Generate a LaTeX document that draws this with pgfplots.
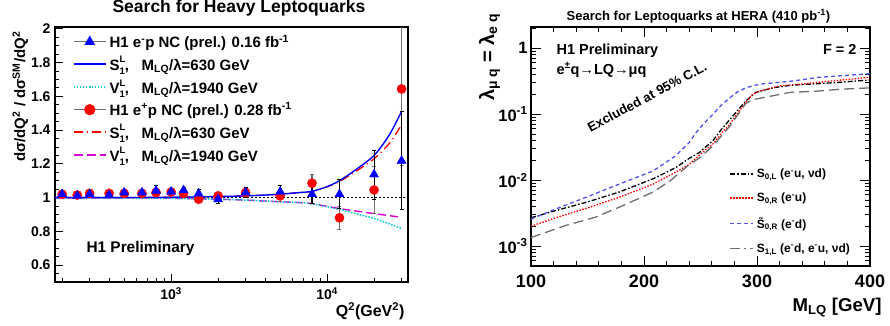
\documentclass[border=0pt]{standalone}
\usepackage{fontspec}
\setmainfont{Liberation Sans}
\usepackage{pgfplots}
\pgfplotsset{compat=1.18}
\newcommand\supsub[2]{\makebox[0pt][l]{\raisebox{0.95ex}{\fontsize{9.5}{9.5}\selectfont #1}}\raisebox{-0.55ex}{\fontsize{9.5}{9.5}\selectfont #2}}
\newcommand\fs[1]{\bfseries\fontsize{#1}{#1}\selectfont}
\definecolor{lqcyan}{RGB}{0,200,210}
\definecolor{lqmag}{RGB}{215,0,215}
\definecolor{lqblue}{RGB}{80,80,240}
\definecolor{lqgray}{RGB}{110,110,110}

\pgfplotstableread{
q v e
200 1.02 0.012
250 1.015 0.012
300 1.025 0.012
400 1.025 0.012
500 1.025 0.012
650 1.025 0.013
800 1.03 0.014
1000 1.033 0.015
1200 1.024 0.016
1500 0.99 0.017
2000 1.01 0.02
3000 1.03 0.025
5000 1.01 0.03
8000 1.085 0.05
12000 0.88 0.07
20000 1.045 0.14
30000 1.643 0.45
}\epdata
\pgfplotstableread{
q v e
200 1.02 0.015
250 1.01 0.015
300 1.02 0.015
400 1.015 0.015
500 1.03 0.015
650 1.03 0.016
800 1.04 0.035
1000 1.035 0.02
1200 1.043 0.02
1500 1.024 0.025
2000 0.99 0.025
3000 1.03 0.03
5000 1.035 0.035
8000 1.02 0.055
12000 1.02 0.085
20000 1.137 0.145
30000 1.218 0.29
}\emdata

\begin{document}
\begin{tikzpicture}
\useasboundingbox (0pt,0pt) rectangle (890pt,325pt);
% ---------------- left panel ----------------
\begin{axis}[at={(55pt,43pt)}, anchor=south west, scale only axis,
  width=353pt, height=255pt,
  xmode=log, xmin=180, xmax=33000, ymin=0.5, ymax=2.01,
  axis line style={line width=1.2pt},
  tick align=inside, xtick pos=bottom, ytick pos=left,
  major tick length=8pt, minor tick length=4.5pt,
  every tick/.style={black, line width=0.8pt},
  xtick={1000,10000}, xticklabels={10\textsuperscript{3},10\textsuperscript{4}},
  minor xtick={200,300,400,500,600,700,800,900,2000,3000,4000,5000,6000,7000,8000,9000,20000,30000},
  ytick={0.6,0.8,1,1.2,1.4,1.6,1.8,2},
  yticklabels={0.6,0.8,1,1.2,1.4,1.6,1.8,2},
  minor ytick={0.5,0.55,0.65,0.7,0.75,0.85,0.9,0.95,1.05,1.1,1.15,1.25,1.3,1.35,1.45,1.5,1.55,1.65,1.7,1.75,1.85,1.9,1.95},
  ticklabel style={font=\fs{14}},
  yticklabel style={xshift=-1pt},
  xticklabel style={yshift=-2pt},
  clip=true,
  legend cell align=left,
  legend style={at={(axis description cs:0.05,0.978)}, anchor=north west, draw=none, fill=none,
     font=\fs{15}, row sep=3.6pt, inner sep=0pt,
     nodes={inner xsep=3pt, inner ysep=2pt}},
  legend image code/.code={\draw[mark repeat=2,mark phase=2,#1] plot coordinates {(0pt,0pt) (16pt,0pt) (32pt,0pt)};},
]
\addlegendimage{draw=lqgray, line width=1.2pt, mark=triangle*, mark size=5pt, mark options={fill=blue, draw=blue, solid}}
\addlegendentry{H1 e\textsuperscript{-}p NC (prel.) 0.16 fb\textsuperscript{-1}}
\addlegendimage{draw=blue, line width=1.5pt}
\addlegendentry{S\supsub{L}{1},\ \ \ M\textsubscript{LQ}/λ=630 GeV}
\addlegendimage{draw=lqcyan, line width=1.7pt, dash pattern=on 1.5pt off 1.5pt}
\addlegendentry{V\supsub{L}{1},\ \ \ M\textsubscript{LQ}/λ=1940 GeV}
\addlegendimage{draw=lqgray, line width=1.2pt, mark=*, mark size=5pt, mark options={fill=red, draw=red, solid}}
\addlegendentry{H1 e\textsuperscript{+}p NC (prel.) 0.28 fb\textsuperscript{-1}}
\addlegendimage{draw=red, line width=1.7pt, dash pattern=on 9pt off 4pt on 1pt off 4pt}
\addlegendentry{S\supsub{L}{1},\ \ \ M\textsubscript{LQ}/λ=630 GeV}
\addlegendimage{draw=lqmag, line width=1.8pt, dash pattern=on 9pt off 4pt}
\addlegendentry{V\supsub{L}{1},\ \ \ M\textsubscript{LQ}/λ=1940 GeV}

\addplot[forget plot, black, line width=0.9pt, dash pattern=on 2pt off 2pt] coordinates {(180,1) (33000,1)};
% V1L curves
\addplot[forget plot, lqmag, line width=1.4pt, dash pattern=on 8pt off 4pt, smooth] coordinates {
(180,1.0) (500,0.999) (1000,0.996) (2000,0.99) (3000,0.985) (5000,0.975) (6700,0.97) (8000,0.964) (12000,0.935) (16000,0.918) (20000,0.905) (25000,0.893) (30000,0.883)};
\addplot[forget plot, lqcyan, line width=1.5pt, dash pattern=on 1.5pt off 1.5pt, smooth] coordinates {
(180,1.0) (500,0.998) (1000,0.995) (2000,0.99) (3000,0.985) (5000,0.975) (6700,0.97) (8000,0.962) (12000,0.93) (16000,0.90) (20000,0.876) (25000,0.845) (30000,0.817)};
% S1L curves
\addplot[forget plot, red, line width=1.3pt, dash pattern=on 9pt off 4pt on 1pt off 4pt, smooth] coordinates {
(180,1.0) (500,1.0) (1000,1.002) (2000,1.006) (3000,1.01) (4000,1.015) (5000,1.02) (6500,1.029) (8000,1.037) (10000,1.063) (12000,1.095) (15000,1.15) (20000,1.23) (25000,1.32) (30000,1.43)};
\addplot[forget plot, blue, line width=1.4pt, smooth] coordinates {
(180,1.0) (500,1.0) (1000,1.002) (2000,1.006) (3000,1.01) (4000,1.015) (5000,1.02) (6500,1.029) (8000,1.037) (10000,1.065) (12000,1.1) (15000,1.16) (20000,1.25) (25000,1.37) (30000,1.51)};
% data
\addplot[forget plot, only marks, mark=*, mark size=4.6pt, color=red, fill=red,
  error bars/.cd, y dir=both, y explicit,
  error bar style={lqgray, line width=1.1pt},
  error mark options={lqgray, rotate=90, mark size=2pt, line width=0.8pt}]
  table[x=q, y=v, y error=e] {\epdata};
\addplot[forget plot, only marks, mark=triangle*, mark size=5.2pt, color=blue, fill=blue,
  error bars/.cd, y dir=both, y explicit,
  error bar style={black, line width=1.1pt},
  error mark options={black, rotate=90, mark size=2pt, line width=0.8pt}]
  table[x=q, y=v, y error=e] {\emdata};
\end{axis}
\node[anchor=base, font=\fs{17.5}] at (239pt,312.3pt) {Search for Heavy Leptoquarks};
\node[anchor=base west, font=\fs{15.4}] at (83pt,72.3pt) {H1 Preliminary};
\node[anchor=base east, font=\fs{16}] at (408pt,8.3pt) {Q\textsuperscript{2}(GeV\textsuperscript{2})};
\node[rotate=90, anchor=base east, font=\fs{15}] at (25pt,297pt) {dσ/dQ\textsuperscript{2} / dσ\textsuperscript{SM}/dQ\textsuperscript{2}};

% ---------------- right panel ----------------
\begin{axis}[at={(531pt,59pt)}, anchor=south west, scale only axis,
  width=339pt, height=239pt,
  ymode=log, xmin=100, xmax=400, ymin=5e-4, ymax=2.1,
  axis line style={line width=1.2pt},
  tick align=inside, xtick pos=both, ytick pos=both,
  major tick length=10pt, minor tick length=5pt,
  every tick/.style={black, line width=0.8pt},
  xtick={100,200,300,400}, xticklabels={100,200,300,400},
  minor xtick={120,140,160,180,220,240,260,280,320,340,360,380},
  ytick={0.001,0.01,0.1,1},
  yticklabels={10\textsuperscript{-3},10\textsuperscript{-2},10\textsuperscript{-1},1},
  minor ytick={0.0005,0.0006,0.0007,0.0008,0.0009,0.002,0.003,0.004,0.005,0.006,0.007,0.008,0.009,0.02,0.03,0.04,0.05,0.06,0.07,0.08,0.09,0.2,0.3,0.4,0.5,0.6,0.7,0.8,0.9,2},
  xticklabel style={font=\fs{18}, yshift=-5pt},
  yticklabel style={font=\fs{16.5}},
  legend cell align=left,
  legend style={at={(axis description cs:0.585,0.415)}, anchor=north west, draw=none, fill=none,
     font=\fs{12}, row sep=10pt, inner sep=0pt, nodes={inner xsep=2.5pt, inner ysep=2pt}},
  legend image code/.code={\draw[#1] (0pt,0pt) -- (23pt,0pt);},
]
\addlegendimage{draw=black, line width=1.6pt, dash pattern=on 5pt off 2pt on 1.5pt off 2pt}
\addlegendentry{S\textsubscript{0,L} (e\textsuperscript{-}u, νd)}
\addlegendimage{draw=red, line width=1.7pt, dash pattern=on 1.5pt off 1.5pt}
\addlegendentry{S\textsubscript{0,R} (e\textsuperscript{-}u)}
\addlegendimage{draw=lqblue, line width=1.8pt, dash pattern=on 4pt off 3pt}
\addlegendentry{\~S\textsubscript{0,R} (e\textsuperscript{-}d)}
\addlegendimage{draw=lqgray, line width=1.6pt, dash pattern=on 10pt off 4pt on 1.5pt off 4pt}
\addlegendentry{S\textsubscript{1,L} (e\textsuperscript{-}d, e\textsuperscript{-}u, νd)}
\addplot[forget plot, black, line width=1.3pt, dash pattern=on 5pt off 2pt on 1.5pt off 2pt] coordinates {
(100,0.00269) (120,0.00339) (150,0.00468) (178,0.00661) (208,0.0105) (228,0.0155) (240,0.0214) (249,0.0263) (261,0.0398) (268,0.0575) (276,0.0832) (283,0.115) (290,0.158) (299,0.214) (314,0.251) (330,0.275) (350,0.288) (370,0.302) (400,0.331)};
\addplot[forget plot, red, line width=1.3pt, dash pattern=on 1.5pt off 1.5pt] coordinates {
(100,0.0020) (120,0.00263) (150,0.0038) (178,0.0055) (208,0.00871) (228,0.0132) (240,0.0174) (249,0.024) (261,0.0355) (268,0.0501) (276,0.0708) (283,0.105) (290,0.151) (296,0.200) (302,0.224) (320,0.269) (340,0.288) (370,0.324) (400,0.363)};
\addplot[forget plot, lqblue, line width=1.3pt, dash pattern=on 4pt off 3pt] coordinates {
(100,0.00257) (120,0.00355) (150,0.00562) (178,0.00871) (208,0.0138) (228,0.0234) (240,0.0372) (246,0.0525) (253,0.0724) (261,0.1) (268,0.135) (276,0.178) (283,0.219) (290,0.251) (298,0.275) (305,0.288) (330,0.316) (355,0.363) (380,0.389) (400,0.412)};
\addplot[forget plot, lqgray, line width=1.3pt, dash pattern=on 10pt off 5pt] coordinates {
(100,0.00135) (130,0.00204) (157,0.00275) (178,0.00389) (208,0.00661) (223,0.00977) (239,0.0166) (250,0.0224) (261,0.0331) (276,0.0661) (290,0.145) (296,0.166) (308,0.182) (329,0.214) (353,0.224) (375,0.240) (400,0.251)};
\end{axis}
\node[anchor=base, font=\fs{13}] at (698.5pt,305pt) {Search for Leptoquarks at HERA (410 pb\textsuperscript{-1})};
\node[anchor=base west, font=\fs{14.5}] at (553pt,271pt) {H1 Preliminary};
\node[anchor=base west, font=\fs{14.5}] at (553pt,251pt) {e\textsuperscript{±}q→LQ→μq};
\node[anchor=base east, font=\fs{14.5}] at (860pt,271pt) {F = 2};
\node[rotate=28, font=\fs{13.2}] at (647pt,228pt) {Excluded at 95\% C.L.};
\node[anchor=base east, font=\fs{18.6}] at (885pt,13.3pt) {M\textsubscript{LQ} [GeV]};
\node[rotate=90, anchor=base east, font=\fs{20}] at (494pt,315pt) {λ\textsubscript{μ q} = λ\textsubscript{e q}};
\end{tikzpicture}
\end{document}
